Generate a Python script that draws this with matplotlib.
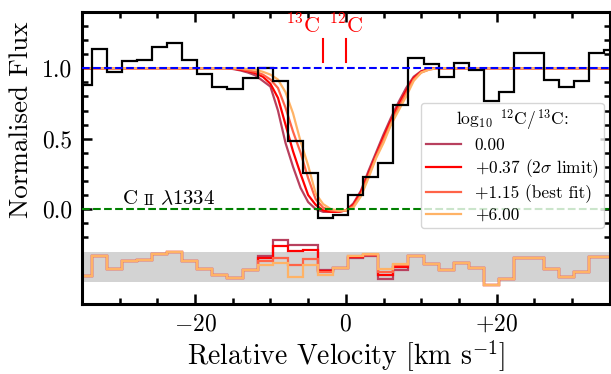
import numpy as np
import matplotlib
matplotlib.use("Agg")
import matplotlib.pyplot as plt
from matplotlib.ticker import FixedLocator, MultipleLocator

plt.rcParams['font.family'] = 'serif'
plt.rcParams['font.serif'] = ['cmr10']
plt.rcParams['mathtext.fontset'] = 'cm'
plt.rcParams['axes.formatter.use_mathtext'] = True
plt.rcParams['axes.unicode_minus'] = False

# spectrum: 2 km/s bins
vel = np.arange(-34.7, 36, 2.0)
flux = [0.88, 1.14, 0.97, 1.05, 1.06, 1.15, 1.18, 1.06, 0.96, 0.87, 0.85, 0.93,
        1.00, 0.91, 0.485, 0.255, -0.065, -0.045, 0.10, 0.225, 0.33, 0.74,
        1.07, 1.03, 0.94, 1.04, 0.99, 0.77, 0.83, 1.11, 1.11, 0.92, 0.87, 0.91,
        1.11, 1.13]

# model profiles
model_vel = [-35] + list(range(-16, 14)) + [35]
labels = ['0.00', '+0.37 (2$\\sigma$ limit)', '+1.15 (best fit)', '+6.00']
colors = ['#b8405e', '#ff0000', '#ff6347', '#ffb366']
model_00 = [1.0, 1.0, 0.995, 0.985, 0.97, 0.95, 0.91, 0.87, 0.70, 0.47, 0.30, 0.15,
            0.05, 0.0, -0.02, -0.02, -0.02, -0.01, 0.04, 0.13, 0.27, 0.40, 0.53,
            0.65, 0.76, 0.86, 0.94, 0.98, 0.995, 1.0, 1.0, 1.0]
model_037 = [1.0, 1.0, 0.998, 0.99, 0.98, 0.965, 0.94, 0.89, 0.79, 0.60, 0.41, 0.25,
             0.10, 0.03, -0.01, -0.02, -0.02, -0.01, 0.03, 0.12, 0.25, 0.38, 0.51,
             0.63, 0.74, 0.84, 0.93, 0.975, 0.995, 1.0, 1.0, 1.0]
model_115 = [1.0, 1.0, 1.0, 0.995, 0.985, 0.975, 0.955, 0.92, 0.86, 0.72, 0.55, 0.40,
             0.22, 0.07, 0.01, -0.01, -0.015, -0.01, 0.02, 0.10, 0.235, 0.37, 0.49,
             0.61, 0.72, 0.82, 0.92, 0.97, 0.99, 1.0, 1.0, 1.0]
model_600 = [1.0, 1.0, 1.0, 1.0, 0.995, 0.99, 0.975, 0.955, 0.92, 0.83, 0.68, 0.48,
             0.31, 0.11, 0.035, 0.0, -0.01, -0.01, 0.01, 0.09, 0.22, 0.36, 0.47,
             0.60, 0.70, 0.80, 0.91, 0.97, 0.99, 1.0, 1.0, 1.0]
models = [model_00, model_037, model_115, model_600]

# residuals (offset panel)
resid_left = [-0.475, -0.333, -0.428, -0.367, -0.362, -0.319, -0.303, -0.367,
              -0.428, -0.468, -0.492, -0.435]
resid_right = [-0.333, -0.39, -0.433, -0.385, -0.42, -0.54, -0.50, -0.35, -0.35,
               -0.428, -0.48, -0.445, -0.343, -0.343]
resid_core = [
    [-0.333, -0.218, -0.255, -0.255, -0.435, -0.42, -0.345, -0.335, -0.50, -0.433],
    [-0.35, -0.262, -0.295, -0.29, -0.44, -0.42, -0.34, -0.33, -0.468, -0.415],
    [-0.37, -0.35, -0.40, -0.355, -0.45, -0.42, -0.335, -0.325, -0.45, -0.40],
    [-0.395, -0.385, -0.48, -0.40, -0.465, -0.42, -0.333, -0.318, -0.428, -0.39],
]
band_lo, band_hi = -0.52, -0.303

edges = np.append(vel - 1.0, vel[-1] + 1.0)

fig = plt.figure(figsize=(6.11, 3.74), dpi=100)
ax = fig.add_axes([0.134, 0.187, 0.864, 0.781])

ax.axhspan(band_lo, band_hi, color='lightgrey', lw=0, zorder=0)

for m, c, lab in zip(models, colors, labels):
    ax.plot(model_vel, m, color=c, lw=1.6, label=lab, zorder=2)

for r, c in zip(resid_core, colors):
    ax.stairs(resid_left + r + resid_right, edges, baseline=None, color=c, lw=1.6, zorder=2)

ax.stairs(flux, edges, baseline=None, color='k', lw=1.6, zorder=3)

ax.axhline(1.0, color='b', ls='--', lw=1.5, zorder=4)
ax.axhline(0.0, color='green', ls='--', lw=1.5, zorder=4)

# isotope markers
ax.plot([-3, -3], [1.045, 1.21], color='red', lw=1.5)
ax.plot([0, 0], [1.045, 1.21], color='red', lw=1.5)
ax.text(-5.6, 1.25, '$^{13}$C', color='red', fontsize=16, ha='center', va='baseline')
ax.text(0.1, 1.25, '$^{12}$C', color='red', fontsize=16, ha='center', va='baseline')

t1 = ax.text(-29.6, 0.035, 'C', fontsize=15, va='baseline')
t2 = ax.annotate('II', xy=(1, 0), xycoords=t1, xytext=(4, 0), textcoords='offset points',
                 fontsize=11, va='bottom')
ax.annotate('$\\lambda$1334', xy=(1, 0), xycoords=t2, xytext=(4, 0),
            textcoords='offset points', fontsize=15, va='bottom')

ax.set_xlim(-35, 35)
ax.set_ylim(-0.675, 1.4)
ax.set_xticks([-20, 0, 20])
ax.set_xticklabels(['$-20$', '$0$', '$+20$'])
ax.xaxis.set_minor_locator(MultipleLocator(5))
ax.set_yticks([0.0, 0.5, 1.0])
ax.set_yticklabels(['0.0', '0.5', '1.0'])
ax.yaxis.set_minor_locator(FixedLocator([-0.2, -0.1, 0.1, 0.2, 0.3, 0.4, 0.6, 0.7, 0.8,
                                         0.9, 1.1, 1.2, 1.3]))
ax.tick_params(which='both', direction='in', top=True, right=True, labelsize=17, width=1.8)
ax.tick_params(which='major', length=7, pad=7)
ax.tick_params(which='minor', length=4)
for s in ax.spines.values():
    s.set_linewidth(2.2)

ax.set_xlabel('Relative Velocity [km s$^{-1}$]', fontsize=20, labelpad=2)
ax.set_ylabel('Normalised Flux', fontsize=19.5)
ax.yaxis.set_label_coords(-0.093, 0.63)

leg = ax.legend(loc='lower right', bbox_to_anchor=(0.989, 0.26), borderaxespad=0,
                fontsize=12.5, title='$\\log_{10}\\ ^{12}\\mathrm{C}/^{13}\\mathrm{C}$:',
                title_fontsize=12.5, labelspacing=0.25, borderpad=0.3)
leg.set_zorder(5)

fig.savefig('out.png', dpi=100)
